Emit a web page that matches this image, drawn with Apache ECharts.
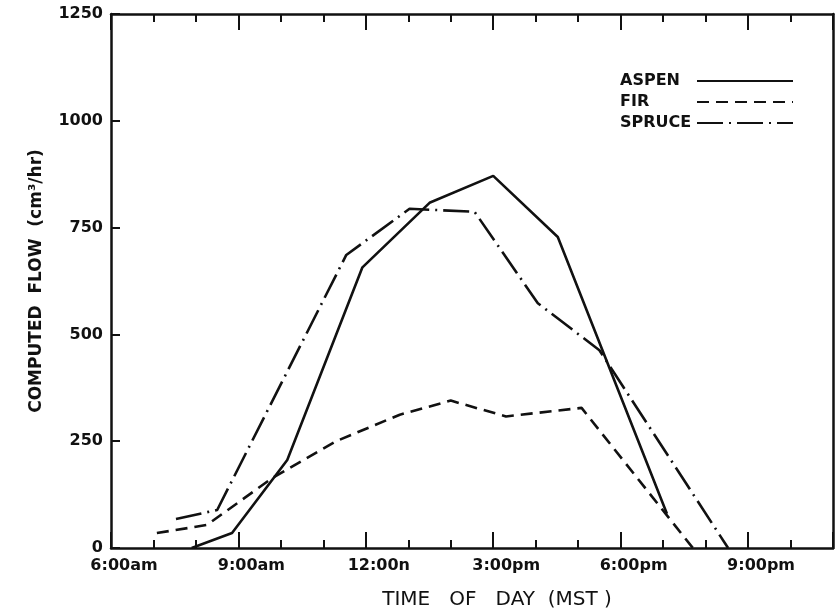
<!DOCTYPE html>
<html>
<head>
<meta charset="utf-8">
<script src="https://cdn.jsdelivr.net/npm/echarts@6/dist/echarts.min.js"></script>
<style>
  html, body { margin: 0; padding: 0; background: #fff; }
  #myChart { width: 840px; height: 615px; }
</style>
</head>
<body>
<div id="myChart"></div>
<script>
  // values (hour of day, computed flow cm3/hr)
  const aspenHours = [7.9, 8.85, 10.15, 11.92, 13.5, 15.0, 16.52, 19.09];
  const aspenFlow = [0, 35, 206, 657, 808, 871, 728, 80];
  const firHours = [7.08, 8.26, 9.8, 11.3, 12.8, 14.0, 15.3, 17.08, 19.7];
  const firFlow = [35, 54, 164, 250, 312, 345, 308, 328, 0];
  const spruceHours = [7.53, 8.5, 11.54, 13.03, 14.56, 16.05, 17.5, 20.53];
  const spruceFlow = [68, 89, 686, 794, 787, 573, 463, 0];

  const tickHours = [6, 9, 12, 15, 18, 21];
  const tickLabels = ['6:00am', '9:00am', '12:00n', '3:00pm', '6:00pm', '9:00pm'];

  const ink = '#111';
  const font = 'DejaVu Sans';

  function pairs(xs, ys) {
    return xs.map((x, i) => [x, ys[i]]);
  }

  var myChart = echarts.init(document.getElementById('myChart'));

  // minor (1 h) and major (3 h) ticks, on bottom and on top
  function hourAxis(pos, step, len, main) {
    return {
      type: 'value', position: pos, min: 6, max: 23, interval: step,
      axisLine: { show: main, onZero: false, lineStyle: { color: ink, width: 2.5 } },
      axisTick: { show: true, inside: true, length: len, lineStyle: { color: ink, width: 2 } },
      splitLine: { show: false },
      axisLabel: { show: false }
    };
  }

  const xBottom = hourAxis('bottom', 1, 8, true);
  xBottom.axisLabel = {
    show: true, margin: 10, color: ink,
    fontFamily: font, fontWeight: 'bold', fontSize: 16,
    padding: [0, 0, 0, 26],
    formatter: function (v) {
      const k = tickHours.indexOf(v);
      return k >= 0 ? tickLabels[k] : '';
    }
  };
  xBottom.name = 'TIME   OF   DAY  (MST )';
  xBottom.nameLocation = 'middle';
  xBottom.nameGap = 42;
  xBottom.nameTextStyle = { color: ink, fontFamily: font, fontSize: 20, padding: [0, 0, 0, 50] };

  myChart.setOption({
    animation: false,
    backgroundColor: '#fff',
    grid: { left: 111, right: 7, top: 14, bottom: 67 },
    legend: {
      orient: 'vertical', left: 615, top: 68,
      align: 'right',
      itemWidth: 96, itemHeight: 14, itemGap: 5,
      itemStyle: { opacity: 0 },
      data: ['ASPEN', 'FIR', 'SPRUCE'],
      formatter: function (name) {
        return '{t|' + name + '}';
      },
      textStyle: {
        color: ink, fontFamily: font, fontWeight: 'bold', fontSize: 16, lineHeight: 16,
        rich: {
          t: { width: 72, align: 'left', color: ink, fontFamily: font, fontWeight: 'bold', fontSize: 16 }
        }
      }
    },
    xAxis: [
      xBottom,
      hourAxis('bottom', 3, 16, false),
      hourAxis('top', 1, 8, true),
      hourAxis('top', 3, 16, false)
    ],
    yAxis: [
      {
        type: 'value', min: 0, max: 1250, interval: 250,
        axisLine: { show: true, lineStyle: { color: ink, width: 2.5 } },
        axisTick: { show: true, inside: true, length: 9, lineStyle: { color: ink, width: 2 } },
        splitLine: { show: false },
        axisLabel: {
          margin: 8, color: ink, fontFamily: font, fontWeight: 'bold', fontSize: 16,
          formatter: function (v) { return String(v); }
        },
        name: 'COMPUTED  FLOW  (cm³/hr)',
        nameLocation: 'middle', nameGap: 66, nameRotate: 90,
        nameTextStyle: { color: ink, fontFamily: font, fontWeight: 'bold', fontSize: 17 }
      },
      {
        type: 'value', position: 'right', min: 0, max: 1250, interval: 250,
        axisLine: { show: true, lineStyle: { color: ink, width: 2.5 } },
        axisTick: { show: false }, axisLabel: { show: false }, splitLine: { show: false }
      }
    ],
    series: [
      {
        name: 'ASPEN', type: 'line', symbol: 'none',
        data: pairs(aspenHours, aspenFlow),
        lineStyle: { color: ink, width: 2.6, type: 'solid' },
        itemStyle: { color: ink }
      },
      {
        name: 'FIR', type: 'line', symbol: 'none',
        data: pairs(firHours, firFlow),
        lineStyle: { color: ink, width: 2.6, type: [12, 7] },
        itemStyle: { color: ink }
      },
      {
        name: 'SPRUCE', type: 'line', symbol: 'none',
        data: pairs(spruceHours, spruceFlow),
        lineStyle: { color: ink, width: 2.6, type: [26, 6, 2, 6] },
        itemStyle: { color: ink }
      }
    ]
  });
</script>
</body>
</html>
